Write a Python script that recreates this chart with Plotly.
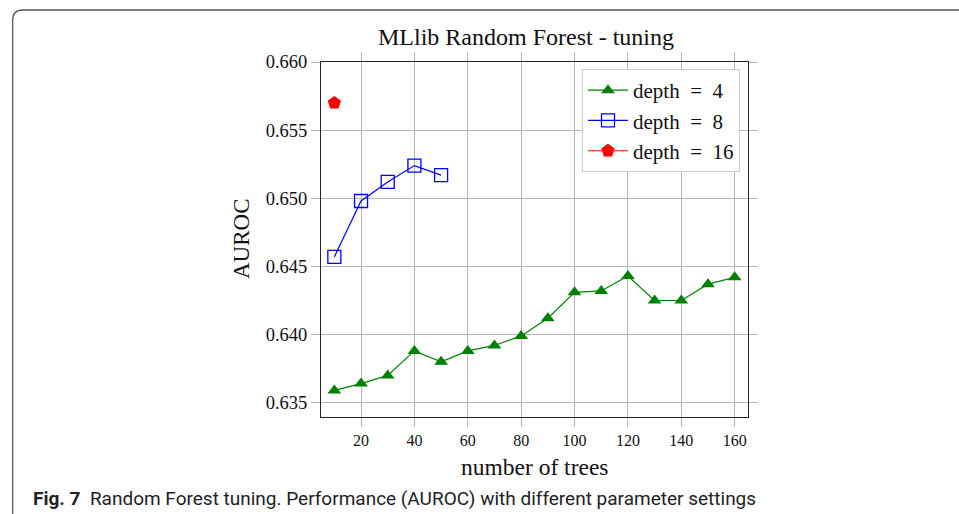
import plotly.graph_objects as go

# number of trees
trees_d4 = [10, 20, 30, 40, 50, 60, 70, 80, 90, 100, 110, 120, 130, 140, 150, 160]
auroc_d4 = [0.6359, 0.6364, 0.6370, 0.6388, 0.6380, 0.6388, 0.6392, 0.6399,
            0.6412, 0.6431, 0.6432, 0.6443, 0.6425, 0.6425, 0.6437, 0.6442]
trees_d8 = [10, 20, 30, 40, 50]
auroc_d8 = [0.6457, 0.6498, 0.6512, 0.6524, 0.6517]
trees_d16 = [10]
auroc_d16 = [0.6570]

W, H = 959, 514
L, R, T, B = 321, 211, 62, 97
PW, PH = W - L - R, H - T - B

def px(x): return (x - L) / PW
def py(y): return (H - B - y) / PH

SERIF = "Liberation Serif"
GRID = "#b5b5b5"
SP = "\u2002"

fig = go.Figure()
fig.add_trace(go.Scatter(x=trees_d4, y=auroc_d4, mode="lines+markers", name=f"depth{SP}={SP}4",
    line=dict(color="#008000", width=1.2),
    marker=dict(symbol="triangle-up", size=12, color="#008000", line=dict(width=0))))
fig.add_trace(go.Scatter(x=trees_d8, y=auroc_d8, mode="lines+markers", name=f"depth{SP}={SP}8",
    line=dict(color="#0000ff", width=1.2),
    marker=dict(symbol="square-open", size=13, color="#0000ff", line=dict(width=1.3))))
fig.add_trace(go.Scatter(x=trees_d16, y=auroc_d16, mode="lines+markers", name=f"depth{SP}={SP}16",
    line=dict(color="#ff0000", width=1.2),
    marker=dict(symbol="pentagon", size=14, color="#ff0000", line=dict(width=0))))

ax = dict(showgrid=True, gridcolor=GRID, gridwidth=1, zeroline=False,
          showline=True, linecolor="#222", linewidth=1, mirror="ticks",
          ticks="outside", ticklen=9, tickcolor=GRID, tickwidth=1)

fig.update_layout(
    width=W, height=H, margin=dict(l=L, r=R, t=T, b=B),
    paper_bgcolor="white", plot_bgcolor="white",
    font=dict(family=SERIF, color="#111"),
    showlegend=True,
    legend=dict(x=px(740), y=py(69), xanchor="right", yanchor="top",
                bgcolor="white", bordercolor="#cccccc", borderwidth=1,
                font=dict(family=SERIF, size=21, color="#111"), itemwidth=40),
    xaxis=dict(range=[5, 165], dtick=20, tick0=0, tickfont=dict(size=16), **ax),
    yaxis=dict(range=[0.63395, 0.660], dtick=0.005, tick0=0.635, tickformat=".3f",
               tickfont=dict(size=18.5), **ax),
)

anns = [
    dict(text="MLlib Random Forest - tuning", x=px(526), y=py(37), font=dict(size=24)),
    dict(text="AUROC", x=px(241), y=py(239), textangle=-90, font=dict(size=23)),
    dict(text="number of trees", x=px(534), y=py(467), font=dict(size=23.5)),
    dict(text="<b>Fig. 7</b>&nbsp;&nbsp;Random Forest tuning. Performance (AUROC) with different parameter settings",
         x=px(31), y=py(499), xanchor="left", font=dict(family="Roboto", size=19, color="#222")),
]
for a in anns:
    a.setdefault("xanchor", "center")
    fig.add_annotation(xref="paper", yref="paper", yanchor="middle", showarrow=False, **a)

# rounded frame around the figure
fig.add_shape(type="path", xref="paper", yref="paper",
    path=f"M {px(12.7)},{py(530)} L {px(12.7)},{py(20)} Q {px(12.7)},{py(10)} {px(22.7)},{py(10)} L {px(980)},{py(10)}",
    line=dict(color="#555", width=1.3), layer="above")

fig.write_html("out.html", config={"displayModeBar": False},
               post_script="document.body.style.margin='0px';")
